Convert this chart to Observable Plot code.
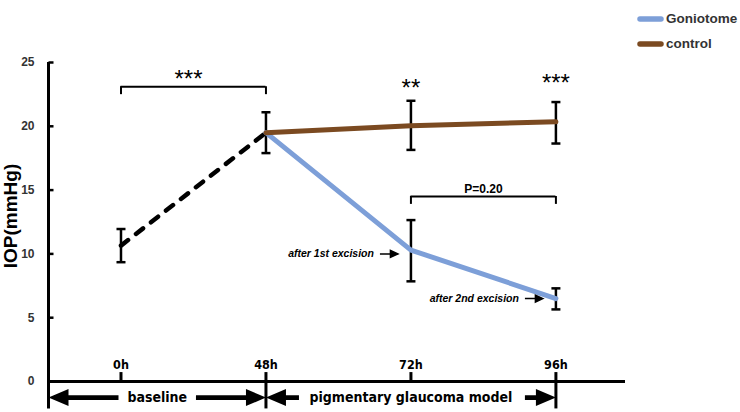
<!DOCTYPE html>
<html>
<head>
<meta charset="utf-8">
<script src="https://cdn.jsdelivr.net/npm/d3@7"></script>
<script src="https://cdn.jsdelivr.net/npm/@observablehq/plot@0.6"></script>
<style>
  html, body { margin: 0; padding: 0; background: #fff; }
  #wrap { position: relative; width: 740px; height: 412px; font-family: "Liberation Sans", Arial, sans-serif; }
  #legend { position: absolute; left: 637px; top: 6px; font-weight: bold; font-size: 13.5px; color: #333; }
  #legend .row { display: flex; align-items: center; height: 25px; }
  #legend svg { margin-right: 2px; }
</style>
</head>
<body>
<div id="wrap"><div id="legend"></div></div>
<script>
// ---- data ----
const timeLabels = ["0h", "48h", "72h", "96h"];
const yTicks = [0, 5, 10, 15, 20, 25];

const baselineTimes = ["0h", "48h"];
const baselineMean = [10.65, 19.5];
const baselineLow = [9.35, 17.9];
const baselineHigh = [11.95, 21.1];

const treatTimes = ["48h", "72h", "96h"];
const goniotomeMean = [19.5, 10.3, 6.5];
const goniotomeLow = [null, 7.85, 5.65];
const goniotomeHigh = [null, 12.65, 7.3];
const controlMean = [19.5, 20.05, 20.35];
const controlLow = [null, 18.15, 18.65];
const controlHigh = [null, 22.0, 21.9];

const seriesNames = ["Goniotome", "control"];
const seriesColors = ["#7d9fd8", "#7b4a21"];

const periodNames = ["baseline", "pigmentary glaucoma model"];
const periodStart = ["origin", "48h"];
const periodEnd = ["48h", "96h"];

const bracketFrom = ["0h", "72h"];
const bracketTo = ["48h", "96h"];
const bracketY = [23.1, 14.5];
const bracketLabel = ["***", "P=0.20"];

const starTimes = ["72h", "96h"];
const starY = [22.35, 22.8];
const starLabel = ["**", "***"];

const noteTimes = ["72h", "96h"];
const noteY = [10.0, 6.5];
const noteLabel = ["after 1st excision", "after 2nd excision"];

// ---- helpers ----
const xMin = -0.5;
const xi = t => t === "origin" ? xMin : timeLabels.indexOf(t);

const baseline = baselineTimes.map((t, i) => ({x: xi(t), y: baselineMean[i], lo: baselineLow[i], hi: baselineHigh[i]}));
const gonio = treatTimes.map((t, i) => ({x: xi(t), y: goniotomeMean[i], lo: goniotomeLow[i], hi: goniotomeHigh[i]}));
const ctrl = treatTimes.map((t, i) => ({x: xi(t), y: controlMean[i], lo: controlLow[i], hi: controlHigh[i]}));
const errs = [...baseline, ...gonio, ...ctrl].filter(d => d.lo != null);

const brackets = bracketLabel.map((l, i) => ({x1: xi(bracketFrom[i]), x2: xi(bracketTo[i]), y: bracketY[i], label: l}));
const stars = starLabel.map((l, i) => ({x: xi(starTimes[i]), y: starY[i], label: l}));
const notes = noteLabel.map((l, i) => ({x: xi(noteTimes[i]), y: noteY[i], label: l}));
const periods = periodNames.map((p, i) => ({x1: xi(periodStart[i]), x2: xi(periodEnd[i]), label: p}));

const periodY = -1.26;

// custom symbols
const hCap = {draw(c) { c.moveTo(-4.5, 0); c.lineTo(4.5, 0); }};
const yTickSym = {draw(c) { c.moveTo(0, 0); c.lineTo(5, 0); }};
const smallArrow = {draw(c) {
  c.moveTo(-18, 0); c.lineTo(-6, 0);
  c.moveTo(0, 0); c.lineTo(-7.5, -3.5); c.lineTo(-7.5, 3.5); c.closePath();
}};
function bigArrow(len, dir) {
  const s = dir === "left" ? -1 : 1;
  return {draw(c) {
    c.moveTo(0, 0);
    c.lineTo(-20 * s, -8.5); c.lineTo(-20 * s, -2.4); c.lineTo(-len * s, -2.4);
    c.lineTo(-len * s, 2.4); c.lineTo(-20 * s, 2.4); c.lineTo(-20 * s, 8.5);
    c.closePath();
  }};
}
const arrowHeads = [
  {x: periods[0].x1, sym: bigArrow(70, "left")},
  {x: periods[0].x2, sym: bigArrow(70, "right")},
  {x: periods[1].x1, sym: bigArrow(33, "left")},
  {x: periods[1].x2, sym: bigArrow(31, "right")}
];

const narrow = "'Liberation Sans Narrow', 'Arial Narrow', 'DejaVu Sans Condensed', 'Liberation Sans', sans-serif";

const chart = Plot.plot({
  width: 740,
  height: 412,
  marginLeft: 48,
  marginRight: 115,
  marginTop: 62,
  marginBottom: 31,
  style: {fontFamily: "'Liberation Sans', Arial, sans-serif", background: "transparent"},
  x: {type: "linear", domain: [xMin, 3.48], axis: null},
  y: {domain: [0, 25], axis: null},
  marks: [
    // axes
    Plot.ruleX([xMin], {y1: -2.15, y2: 25, stroke: "black", strokeWidth: 3}),
    Plot.ruleY([0], {stroke: "black", strokeWidth: 3}),
    Plot.dot(yTicks, {y: d => d, frameAnchor: "left", symbol: yTickSym, stroke: "black", strokeWidth: 2.5, fill: "none"}),
    Plot.text(yTicks, {y: d => d, frameAnchor: "left", text: d => String(d), textAnchor: "end", dx: -14, fontWeight: "bold", fontSize: 12, fill: "#333"}),
    Plot.text(["IOP(mmHg)"], {frameAnchor: "left", textAnchor: "middle", rotate: -90, dx: -38, dy: -6, fontWeight: "bold", fontSize: 19, fill: "black"}),
    Plot.ruleX(timeLabels, {x: (d, i) => i, y1: 0, y2: 0.7, stroke: "black", strokeWidth: 3}),
    Plot.ruleX(periods, {x: "x2", y1: 0, y2: -2.15, stroke: "black", strokeWidth: 3}),
    Plot.text(timeLabels, {x: (d, i) => i, y: 0, dy: -17, text: d => d, fontWeight: "bold", fontSize: 12.5, fontFamily: narrow, fill: "black"}),
    // period arrows
    Plot.dot(arrowHeads, {x: "x", y: periodY, symbol: d => d.sym, fill: "black", stroke: "none"}),
    Plot.text(periods, {x: d => (d.x1 + d.x2) / 2, y: periodY, text: "label", fontWeight: "bold", fontSize: 14, fontFamily: narrow, fill: "black"}),
    // brackets
    Plot.ruleY(brackets, {x1: "x1", x2: "x2", y: "y", stroke: "black", strokeWidth: 2}),
    Plot.ruleX(brackets, {x: "x1", y1: "y", y2: d => d.y - 0.62, stroke: "black", strokeWidth: 2}),
    Plot.ruleX(brackets, {x: "x2", y1: "y", y2: d => d.y - 0.62, stroke: "black", strokeWidth: 2}),
    Plot.text(brackets.slice(0, 1), {x: d => (d.x1 + d.x2) / 2, y: "y", text: "label", dx: -5, dy: 0, fontSize: 24, fill: "black", lineAnchor: "bottom"}),
    Plot.text(brackets.slice(1), {x: d => (d.x1 + d.x2) / 2, y: "y", text: "label", dy: -3, fontSize: 12, fontWeight: "bold", fill: "black", lineAnchor: "bottom"}),
    Plot.text(stars, {x: "x", y: "y", text: "label", fontSize: 24, fill: "black", lineAnchor: "bottom"}),
    // error bars
    Plot.ruleX(errs, {x: "x", y1: "lo", y2: "hi", stroke: "black", strokeWidth: 2.5}),
    Plot.dot(errs, {x: "x", y: "lo", symbol: hCap, stroke: "black", strokeWidth: 2.5, fill: "none"}),
    Plot.dot(errs, {x: "x", y: "hi", symbol: hCap, stroke: "black", strokeWidth: 2.5, fill: "none"}),
    // lines
    Plot.line(baseline, {x: "x", y: "y", stroke: "black", strokeWidth: 4.5, strokeDasharray: "9,10", strokeLinecap: "round"}),
    Plot.line(gonio, {x: "x", y: "y", stroke: seriesColors[0], strokeWidth: 5}),
    Plot.line(ctrl, {x: "x", y: "y", stroke: seriesColors[1], strokeWidth: 5}),
    // excision notes
    Plot.dot(notes, {x: "x", y: "y", dx: -13, symbol: smallArrow, fill: "black", stroke: "black", strokeWidth: 1.5}),
    Plot.text(notes, {x: "x", y: "y", dx: -37, text: "label", textAnchor: "end", fontWeight: "bold", fontStyle: "italic", fontSize: 10.5, fill: "black"})
  ]
});
document.getElementById("wrap").appendChild(chart);

// legend
const legend = document.getElementById("legend");
seriesNames.forEach((name, i) => {
  const row = document.createElement("div");
  row.className = "row";
  row.innerHTML = `<svg width="27" height="10"><line x1="3" y1="5" x2="24" y2="5" stroke="${seriesColors[i]}" stroke-width="5.5" stroke-linecap="round"/></svg><span>${name}</span>`;
  legend.appendChild(row);
});
</script>
</body>
</html>
